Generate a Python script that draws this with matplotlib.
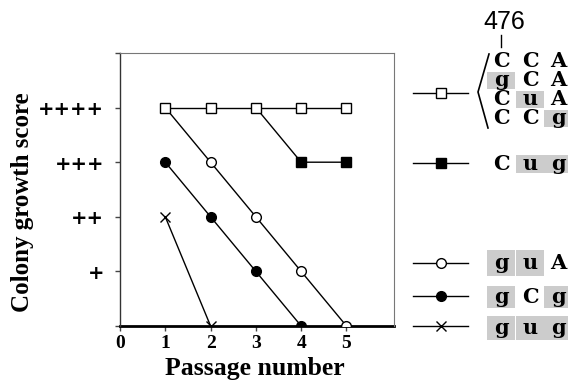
import matplotlib
matplotlib.use("Agg")
import matplotlib.pyplot as plt
from matplotlib.lines import Line2D
from matplotlib.patches import Rectangle

# ---- data ----
passages = [0, 1, 2, 3, 4, 5]
score_labels = ["", "+", "++", "+++", "++++", ""]

open_sq_x = [1, 2, 3, 4, 5]
open_sq_y = [4, 4, 4, 4, 4]

filled_sq_x = [3, 4, 5]
filled_sq_y = [4, 3, 3]

open_circ_x = [1, 2, 3, 4, 5]
open_circ_y = [4, 3, 2, 1, 0]

filled_circ_x = [1, 2, 3, 4]
filled_circ_y = [3, 2, 1, 0]

cross_x = [1, 2]
cross_y = [2, 0]

# sequences (upper-case / lower-case) and shading masks
seq_group_sq = ["CCA", "gCA", "CuA", "CCg"]
shade_group_sq = [[0, 0, 0], [1, 0, 0], [0, 1, 0], [0, 0, 1]]
seq_filled_sq = "Cug"
shade_filled_sq = [0, 1, 1]
seq_open_circ = "guA"
shade_open_circ = [1, 1, 0]
seq_filled_circ = "gCg"
shade_filled_circ = [1, 0, 1]
seq_cross = "gug"
shade_cross = [1, 1, 1]

W, H = 568, 381
fig = plt.figure(figsize=(W / 100, H / 100), dpi=100)
ax = fig.add_axes([120 / W, 1 - 326 / H, (394 - 120) / W, (326 - 53) / H])

lw = 1.0
ax.plot(open_circ_x, open_circ_y, color="black", lw=lw, marker="o", ms=7,
        mfc="white", mec="black", mew=1, markevery=[1, 2, 3, 4], zorder=3)
ax.plot(filled_circ_x, filled_circ_y, color="black", lw=lw, marker="o", ms=7,
        mfc="black", mec="black", zorder=3)
ax.plot(cross_x, cross_y, color="black", lw=lw, marker="x", ms=7, mew=1, zorder=3)
ax.plot(filled_sq_x, filled_sq_y, color="black", lw=lw, marker="s", ms=7,
        mfc="black", mec="black", markevery=[1, 2], zorder=3)
ax.plot(open_sq_x, open_sq_y, color="black", lw=lw, marker="s", ms=7,
        mfc="white", mec="black", mew=1, zorder=4)

ax.set_xlim(0, 6.05)
ax.set_ylim(0, 5)
ax.set_xticks(passages)
ax.set_xticklabels([str(p) for p in passages], fontfamily="Liberation Serif",
                   fontweight="bold", fontsize=14)
ax.set_yticks(range(6))
ax.set_yticklabels(score_labels, fontfamily="DejaVu Sans",
                   fontweight="bold", fontsize=14)
ax.tick_params(axis="both", direction="out", length=3.5, width=1, color="#444444")
ax.tick_params(axis="x", pad=3)
ax.tick_params(axis="y", pad=8)
for s in ["top", "right"]:
    ax.spines[s].set_color("#777777")
    ax.spines[s].set_linewidth(0.8)
ax.spines["left"].set_linewidth(1.0)
ax.spines["left"].set_color("#333333")
ax.spines["bottom"].set_linewidth(2.0)
ax.spines["bottom"].set_zorder(2)


def fx(x):
    return x / W


def fy(y):
    return 1 - y / H


fig.text(fx(255), fy(368), "Passage number", ha="center", va="center",
         fontfamily="Liberation Serif", fontweight="bold", fontsize=18.5)
fig.text(fx(23), fy(202), "Colony growth score", ha="center", va="center",
         rotation=90, fontfamily="Liberation Serif", fontweight="bold", fontsize=18)


# legend samples
def legend_line(y, **kw):
    fig.add_artist(Line2D([fx(413), fx(468)], [fy(y), fy(y)], color="black", lw=1))
    fig.add_artist(Line2D([fx(441)], [fy(y)], linestyle="none", **kw))


legend_line(93, marker="s", ms=7, mfc="white", mec="black")
legend_line(163, marker="s", ms=7, mfc="black", mec="black")
legend_line(263, marker="o", ms=7, mfc="white", mec="black")
legend_line(296, marker="o", ms=7, mfc="black", mec="black")
legend_line(326, marker="x", ms=7, mec="black", mew=1)

col_x = [501, 530, 558]
cell_w = 28.5


def seq_row(seq, shade, y, h=22):
    for i, (ch, s) in enumerate(zip(seq, shade)):
        if s:
            fig.add_artist(Rectangle((fx(col_x[i] - cell_w / 2), fy(y + h / 2)),
                                     cell_w / W, h / H, facecolor="#cccccc",
                                     edgecolor="none", zorder=1))
        fig.text(fx(col_x[i]), fy(y), ch, ha="center", va="center",
                 fontfamily="DejaVu Serif", fontweight="bold", fontsize=15,
                 zorder=2)


row_ys = [61, 80, 99, 118]
for seq, sh, y in zip(seq_group_sq, shade_group_sq, row_ys):
    seq_row(seq, sh, y, h=17)
seq_row(seq_filled_sq, shade_filled_sq, 164, h=18)
seq_row(seq_open_circ, shade_open_circ, 263, h=26)
seq_row(seq_filled_circ, shade_filled_circ, 297, h=22)
seq_row(seq_cross, shade_cross, 328, h=24)

# bracket
fig.add_artist(Line2D([fx(489), fx(478), fx(488)], [fy(54), fy(92), fy(128)],
                      color="black", lw=1.2))
# 476 label and tick
fig.text(fx(504), fy(22), "476", ha="center", va="center",
         fontfamily="Liberation Sans", fontsize=18)
fig.add_artist(Line2D([fx(501), fx(501)], [fy(35), fy(47)], color="black", lw=1))

fig.savefig("out.png", dpi=100)
